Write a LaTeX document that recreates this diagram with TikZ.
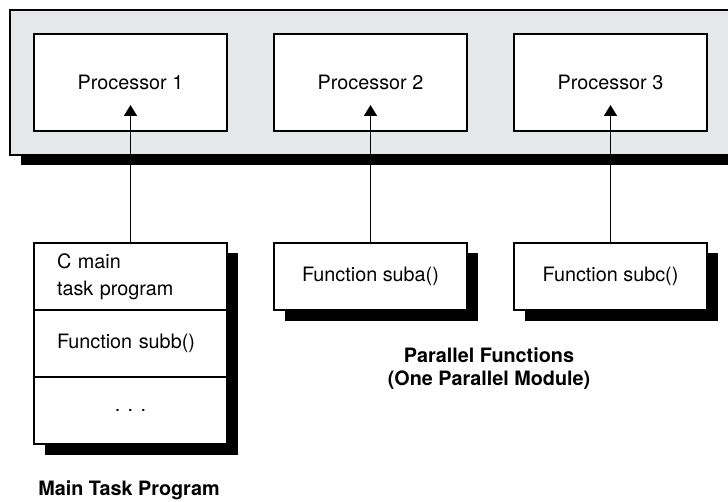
\documentclass[tikz,border=0pt]{standalone}
\usepackage{fontspec}
\setmainfont{TeX Gyre Heros}
\usetikzlibrary{arrows.meta, positioning, shadows}
\definecolor{panelgray}{RGB}{230,231,233}
\tikzset{
    box/.style={draw=black, fill=white, line width=1pt, outer sep=0pt, align=center,
                font=\fontsize{9.9}{13.5}\selectfont, minimum width=96.5pt, inner sep=0pt},
    shad/.style={drop shadow={shadow xshift=5.25pt, shadow yshift=-5.25pt, fill=black, opacity=1}},
    sect/.style={box, minimum height=33.5pt, text width=73.5pt, align=left, inner xsep=11.5pt},
    panel/.style={draw=black, fill=panelgray, line width=1pt},
    arr/.style={-{Triangle[length=5.5pt, width=6.5pt]}, line width=0.9pt, black},
    lab/.style={font=\bfseries\fontsize{9.9}{11.5}\selectfont, align=center},
}
\begin{document}
\begin{tikzpicture}[x=0.5pt, y=-0.5pt]
    \clip (0,0) rectangle (728,502);
    % processor panel
    \draw[panel, shad] (10,10) rectangle (760,155);
    \node[box, minimum height=48.5pt] (p1) at (130.5,82.5) {Processor 1};
    \node[box, minimum height=48.5pt, right=23.5pt of p1] (p2) {Processor 2};
    \node[box, minimum height=48.5pt, right=23.5pt of p2] (p3) {Processor 3};
    % main task program
    \node[sect, shad, below=56pt of p1] (mtop) {C main\\task program};
    \node[sect, shad, below=0pt of mtop] (msub) {Function subb()};
    \node[box, shad, minimum height=33.5pt, below=0pt of msub] (mdots) {. . .};
    % parallel functions
    \node[box, shad, minimum height=33.5pt, below=56pt of p2] (suba) {Function suba()};
    \node[box, shad, minimum height=33.5pt, below=56pt of p3] (subc) {Function subc()};
    \draw[arr] (mtop.north) -- ([yshift=13pt]p1.south);
    \draw[arr] (suba.north) -- ([yshift=13pt]p2.south);
    \draw[arr] (subc.north) -- ([yshift=13pt]p3.south);
    \node[lab] (mainlab) at (129,490) {Main Task Program};
    \node[lab] (parlab) at (489,368.5) {Parallel Functions\\(One Parallel Module)};
\end{tikzpicture}
\end{document}
